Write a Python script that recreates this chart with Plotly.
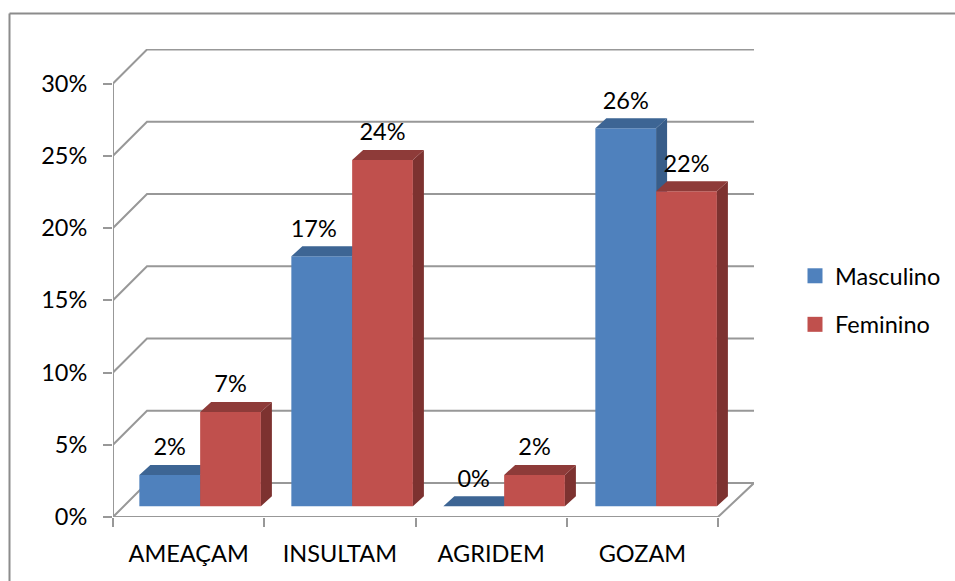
import plotly.graph_objects as go

categories = ["AMEAÇAM", "INSULTAM", "AGRIDEM", "GOZAM"]
masculino = [2.17, 17.3, 0.0, 26.16]
feminino = [6.53, 23.96, 2.17, 21.8]
masc_labels = ["2%", "17%", "0%", "26%"]
fem_labels = ["7%", "24%", "2%", "22%"]
y_ticks = [0, 5, 10, 15, 20, 25, 30]
y_tick_labels = ["0%", "5%", "10%", "15%", "20%", "25%", "30%"]

W, H = 955, 581
L, R, T, B = 113, 754, 49, 517
PX_PER_CAT = 151.25
PX_PER_PCT = 14.45
XMAX = (R - L) / PX_PER_CAT
YMAX = (B - T) / PX_PER_PCT
WALL_DX, WALL_DY = 34 / PX_PER_CAT, 34 / PX_PER_PCT
DEPTH_DX, DEPTH_DY = 11 / PX_PER_CAT, 10 / PX_PER_PCT
BASE = 10.7 / PX_PER_PCT
BAR_W = 60.75 / PX_PER_CAT
BAR_STEP = 152 / PX_PER_CAT
BLUE_C, RED_C = 0.375, 0.777
LABEL_DY = 25.5 / PX_PER_PCT
GRID = "#989898"
FONT = "Lato"
FS = 23.5
INK = "#000000"

fig = go.Figure()

# Back wall, floor and axis lines
for v in y_ticks[1:]:
    fig.add_trace(go.Scatter(x=[0, WALL_DX, XMAX], y=[v, v + WALL_DY, v + WALL_DY], mode="lines",
                             line=dict(color=GRID, width=2), hoverinfo="skip", showlegend=False, cliponaxis=False))
fig.add_trace(go.Scatter(x=[WALL_DX, 0, 0, 0, 4, XMAX, WALL_DX], y=[WALL_DY, 0, 30, 0, 0, WALL_DY, WALL_DY], mode="lines",
                         line=dict(color=GRID, width=2), hoverinfo="skip", showlegend=False, cliponaxis=False))


def add_series(vals, centre, front, top, side, ax):
    xa, ya = ax
    xs = [i * BAR_STEP + centre for i in range(4)]
    fig.add_trace(go.Bar(x=xs, y=vals, base=BASE, width=BAR_W, marker=dict(color=front, line=dict(width=0)),
                         showlegend=False, xaxis=xa, yaxis=ya, hoverinfo="skip"))
    tx, ty, sx, sy = [], [], [], []
    for x, v in zip(xs, vals):
        l, r, y0, y1 = x - BAR_W / 2, x + BAR_W / 2, BASE, BASE + v
        tx += [l, r, r + DEPTH_DX, l + DEPTH_DX, l, None]
        ty += [y1, y1, y1 + DEPTH_DY, y1 + DEPTH_DY, y1, None]
        sx += [r, r + DEPTH_DX, r + DEPTH_DX, r, r, None]
        sy += [y0, y0 + DEPTH_DY, y1 + DEPTH_DY, y1, y0, None]
    for px_, py_, c in ((sx, sy, side), (tx, ty, top)):
        fig.add_trace(go.Scatter(x=px_, y=py_, mode="lines", fill="toself", fillcolor=c, line=dict(width=0, color=c),
                                 showlegend=False, xaxis=xa, yaxis=ya, hoverinfo="skip", cliponaxis=False))


add_series(masculino, BLUE_C, "#4f81bd", "#3d6594", "#385d89", ("x2", "y2"))
add_series(feminino, RED_C, "#c0504d", "#8e3b39", "#7d3230", ("x3", "y3"))

# Data labels (the 17% label sits a little left of its bar in the original)
NUDGE = {("m", 1): -8 / PX_PER_CAT}
for key, vals, labs, c in (("m", masculino, masc_labels, BLUE_C), ("f", feminino, fem_labels, RED_C)):
    fig.add_trace(go.Scatter(x=[i * BAR_STEP + c + NUDGE.get((key, i), 0) for i in range(4)],
                             y=[BASE + v + LABEL_DY for v in vals], text=labs,
                             mode="text", textposition="middle center", textfont=dict(family=FONT, size=FS, color=INK),
                             showlegend=False, xaxis="x3", yaxis="y3", hoverinfo="skip", cliponaxis=False))

# Legend entries
for name, col in (("Masculino", "#4f81bd"), ("Feminino", "#c0504d")):
    fig.add_trace(go.Scatter(x=[None], y=[None], mode="markers", name=name, legendgroup=name,
                             marker=dict(symbol="square", size=15, color=col)))


def px(x):
    return (x - L) / (R - L)


def py(y):
    return (B - y) / (B - T)


border = dict(type="line", xref="paper", yref="paper", line=dict(color="#8c8c8c", width=2))
xr = [0, XMAX]
yr = [0, YMAX]
hidden = dict(visible=False, fixedrange=True)
fig.update_layout(
    width=W, height=H, margin=dict(l=L, r=W - R, t=T, b=H - B, pad=0, autoexpand=False),
    paper_bgcolor="white", plot_bgcolor="white", font=dict(family=FONT, size=FS, color=INK),
    showlegend=True,
    legend=dict(x=px(795), y=py(254), xanchor="left", yanchor="top", bgcolor="rgba(0,0,0,0)",
                font=dict(family=FONT, size=FS, color=INK), tracegroupgap=15, itemsizing="trace"),
    xaxis=dict(range=xr, showgrid=False, zeroline=False, showline=False, tickmode="array",
               tickvals=[i + 0.5 for i in range(4)], ticktext=categories, ticks="", ticklabelstandoff=20,
               minor=dict(tickmode="array", tickvals=[0, 1, 2, 3, 4], ticks="outside", ticklen=9, tickwidth=2, tickcolor=GRID, showgrid=False)),
    yaxis=dict(range=yr, showgrid=False, zeroline=False, showline=False, tickmode="array",
               tickvals=y_ticks, ticktext=y_tick_labels, ticks="outside", ticklen=9, tickwidth=2, tickcolor=GRID,
               ticklabelstandoff=11),
    xaxis2=dict(range=xr, overlaying="x", **hidden), yaxis2=dict(range=yr, overlaying="y", **hidden),
    xaxis3=dict(range=xr, overlaying="x", **hidden), yaxis3=dict(range=yr, overlaying="y", **hidden),
    shapes=[
        dict(border, x0=px(9.5), x1=px(955), y0=py(13.5), y1=py(13.5)),
        dict(border, x0=px(9.5), x1=px(9.5), y0=py(581), y1=py(13.5)),
    ],
)
fig.write_html("out.html", config=dict(displayModeBar=False),
               post_script="document.body.style.margin='0';document.documentElement.style.overflow='hidden';")
